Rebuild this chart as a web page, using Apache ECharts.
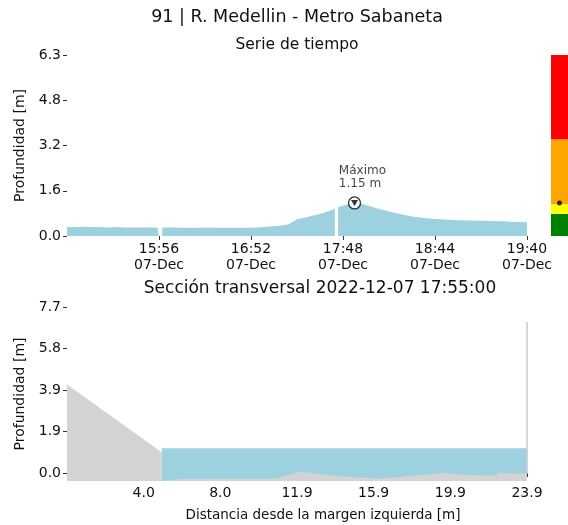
<!DOCTYPE html>
<html><head><meta charset="utf-8">
<script src="https://cdn.jsdelivr.net/npm/echarts@6/dist/echarts.min.js"></script>
<style>html,body{margin:0;padding:0;background:#fff}#c{width:568px;height:525px}</style>
</head><body><div id="c"></div>
<script>
// ---- Serie de tiempo ----
const horas = ['15:00','15:05','15:10','15:15','15:20','15:25','15:30','15:35','15:40','15:45','15:50','15:55','15:56','15:57','15:58',
  '16:00','16:05','16:10','16:15','16:20','16:25','16:30','16:35','16:40','16:45','16:50','16:55',
  '17:00','17:05','17:10','17:15','17:20','17:25','17:30','17:35','17:40','17:43','17:44','17:45','17:50','17:55',
  '18:00','18:05','18:10','18:15','18:20','18:25','18:30','18:35','18:40','18:45','18:50','18:55',
  '19:00','19:05','19:10','19:15','19:20','19:25','19:30','19:35','19:40'];
const profundidad = [0.31,0.31,0.32,0.31,0.31,0.30,0.31,0.30,0.30,0.30,0.30,0.30,0.30,null,0.30,
  0.30,0.30,0.29,0.29,0.29,0.30,0.29,0.29,0.29,0.29,0.29,0.30,
  0.31,0.34,0.36,0.41,0.58,0.64,0.71,0.78,0.88,0.96,null,1.01,1.09,1.15,
  1.11,1.03,0.94,0.87,0.80,0.74,0.68,0.64,0.61,0.59,0.57,0.56,
  0.55,0.54,0.53,0.53,0.52,0.51,0.50,0.49,0.48];
const xTicksSerie = ['15:56','16:52','17:48','18:44','19:40'];
const fechaTick = '07-Dec';
const yTicksSerie = ['0.0','1.6','3.2','4.8','6.3'];
const yMaxSerie = 6.3;
// ---- Barra de umbrales ----
const umbrales = [0.77, 1.11, 3.37, 6.3];
const coloresUmbral = ['#008000','#ffff00','#ffa500','#ff0000'];
const nivelActual = 1.15;
// ---- Sección transversal ----
const seccionX =     [0, 4.92, 4.92, 5.9, 10.8, 12.15, 13.45, 14.5, 16.2, 17.9, 19.5, 20.7, 22.35, 22.35, 23.9];
const seccionFondo = [4.11, 0.96, -0.37, -0.28, -0.26, 0.06, -0.09, -0.17, -0.25, -0.14, 0.01, -0.09, -0.12, 0.01, -0.03];
const aguaX = [4.92, 23.9];
const nivelAgua = 1.15;
const muroX = 23.9, muroTope = 7.0;
const xTicksSeccion = ['4.0','8.0','11.9','15.9','19.9','23.9'];
const yTicksSeccion = ['0.0','1.9','3.9','5.8','7.7'];
const xMaxSeccion = 23.9, yMinSeccion = -0.37, yMaxSeccion = 7.7;

const FONT = 'DejaVu Sans';
const TXT = '#111';
const BLUE = '#9dd1e0';
const GRAY = '#d3d3d3';

const toMin = s => { const [h, m] = s.split(':').map(Number); return h * 60 + m; };
const fmtMin = v => { const h = Math.floor(v / 60), m = Math.round(v - h * 60); return String(h).padStart(2,'0') + ':' + String(m).padStart(2,'0'); };
const serie = horas.map((h, i) => [toMin(h), profundidad[i]]);
let iMax = 0; profundidad.forEach((v, i) => { if (v != null && v > profundidad[iMax]) iMax = i; });
const maxPt = [toMin(horas[iMax]), profundidad[iMax]];

const ySerieVals = yTicksSerie.map((_, k) => yMaxSerie * k / (yTicksSerie.length - 1));
const xSerieVals = xTicksSerie.map(toMin);
const ySecVals = yTicksSeccion.map((_, k) => yMaxSeccion * k / (yTicksSeccion.length - 1));
const xSecVals = xTicksSeccion.map((_, k) => xMaxSeccion * (k + 1) / xTicksSeccion.length);
const nearestLabel = (vals, labels, v) => { let b = 0; vals.forEach((x, i) => { if (Math.abs(x - v) < Math.abs(vals[b] - v)) b = i; }); return labels[b]; };

const bandas = umbrales.map((u, i) => u - (i ? umbrales[i - 1] : 0));

const tick = { show: true, length: 4, lineStyle: { color: '#333', width: 1 } };
const lbl = { color: TXT, fontSize: 14, fontFamily: FONT };
const ttl = (text, left, top, size) => ({ text, left, top, textAlign: 'center',
  textStyle: { fontSize: size, fontWeight: 'normal', color: TXT, fontFamily: FONT } });

const chart = echarts.init(document.getElementById('c'));
chart.setOption({
  animation: false,
  backgroundColor: '#fff',
  textStyle: { fontFamily: FONT },
  title: [
    ttl('91 | R. Medellin - Metro Sabaneta', 292, 3, 17.5),
    ttl('Serie de tiempo', 292, 32, 15.5),
    ttl('Sección transversal 2022-12-07 17:55:00', 315, 275, 17),
    ttl('Distancia desde la margen izquierda [m]', 318, 503, 13.5)
  ],
  grid: [
    { left: 67, top: 55, width: 460, height: 181 },
    { left: 67, top: 307, width: 460, height: 174 },
    { left: 551, top: 55, width: 17, height: 181 }
  ],
  xAxis: [
    { gridIndex: 0, type: 'value', min: toMin(horas[0]), max: toMin(horas[horas.length - 1]),
      axisLine: { show: false }, splitLine: { show: false },
      axisTick: Object.assign({ customValues: xSerieVals }, tick),
      axisLabel: Object.assign({ customValues: xSerieVals, margin: 5, lineHeight: 16,
        formatter: v => fmtMin(v) + '\n' + fechaTick }, lbl) },
    { gridIndex: 1, type: 'value', min: 0, max: xMaxSeccion,
      axisLine: { show: false }, splitLine: { show: false },
      axisTick: Object.assign({ customValues: xSecVals }, tick),
      axisLabel: Object.assign({ customValues: xSecVals, margin: 5,
        formatter: v => nearestLabel(xSecVals, xTicksSeccion, v) }, lbl) },
    { gridIndex: 2, type: 'category', data: [''], show: false }
  ],
  yAxis: [
    { gridIndex: 0, type: 'value', min: 0, max: yMaxSerie,
      name: 'Profundidad [m]', nameLocation: 'middle', nameGap: 34,
      nameTextStyle: { fontSize: 14, color: TXT, fontFamily: FONT },
      axisLine: { show: false }, splitLine: { show: false },
      axisTick: Object.assign({ customValues: ySerieVals }, tick),
      axisLabel: Object.assign({ customValues: ySerieVals, margin: 6,
        formatter: v => nearestLabel(ySerieVals, yTicksSerie, v) }, lbl) },
    { gridIndex: 1, type: 'value', min: yMinSeccion, max: yMaxSeccion,
      name: 'Profundidad [m]', nameLocation: 'middle', nameGap: 34,
      nameTextStyle: { fontSize: 14, color: TXT, fontFamily: FONT },
      axisLine: { show: false }, splitLine: { show: false },
      axisTick: Object.assign({ customValues: ySecVals }, tick),
      axisLabel: Object.assign({ customValues: ySecVals, margin: 6,
        formatter: v => nearestLabel(ySecVals, yTicksSeccion, v) }, lbl) },
    { gridIndex: 2, type: 'value', min: 0, max: yMaxSerie, show: false }
  ],
  series: [
    { type: 'line', xAxisIndex: 0, yAxisIndex: 0, data: serie, showSymbol: false, connectNulls: false,
      lineStyle: { width: 0 }, areaStyle: { color: BLUE, opacity: 1 }, z: 2 },
    { type: 'scatter', xAxisIndex: 0, yAxisIndex: 0, data: [maxPt], symbol: 'circle', symbolSize: 12,
      itemStyle: { color: '#fff', borderColor: '#000', borderWidth: 1.3 }, z: 5,
      label: { show: true, position: [-9, -32], align: 'left', verticalAlign: 'top', lineHeight: 13,
        formatter: 'Máximo\n' + maxPt[1].toFixed(2) + ' m', fontSize: 12, color: TXT, fontFamily: FONT } },
    { type: 'scatter', xAxisIndex: 0, yAxisIndex: 0, data: [maxPt], symbol: 'triangle', symbolRotate: 180, symbolSize: [7, 6],
      itemStyle: { color: '#000' }, z: 6 },
    { type: 'line', xAxisIndex: 1, yAxisIndex: 1, data: aguaX.map(x => [x, nivelAgua]), showSymbol: false,
      lineStyle: { width: 0 }, areaStyle: { color: BLUE, opacity: 1, origin: 'start' }, z: 2 },
    { type: 'line', xAxisIndex: 1, yAxisIndex: 1, data: seccionX.map((x, i) => [x, seccionFondo[i]]), showSymbol: false,
      lineStyle: { width: 0 }, areaStyle: { color: GRAY, opacity: 1, origin: 'start' }, z: 3 },
    { type: 'line', xAxisIndex: 1, yAxisIndex: 1, data: [[muroX, seccionFondo[seccionFondo.length - 1]], [muroX, muroTope]], showSymbol: false,
      lineStyle: { width: 1.5, color: '#c8c8c8' }, z: 4 },
    ...bandas.map((b, i) => ({ type: 'bar', xAxisIndex: 2, yAxisIndex: 2, stack: 'u', data: [b], barWidth: '100%',
      itemStyle: { color: coloresUmbral[i] }, z: 2 })),
    { type: 'scatter', xAxisIndex: 2, yAxisIndex: 2, data: [['', nivelActual]], symbol: 'circle', symbolSize: 5,
      itemStyle: { color: '#000' }, z: 5 }
  ]
});
</script>
</body></html>
